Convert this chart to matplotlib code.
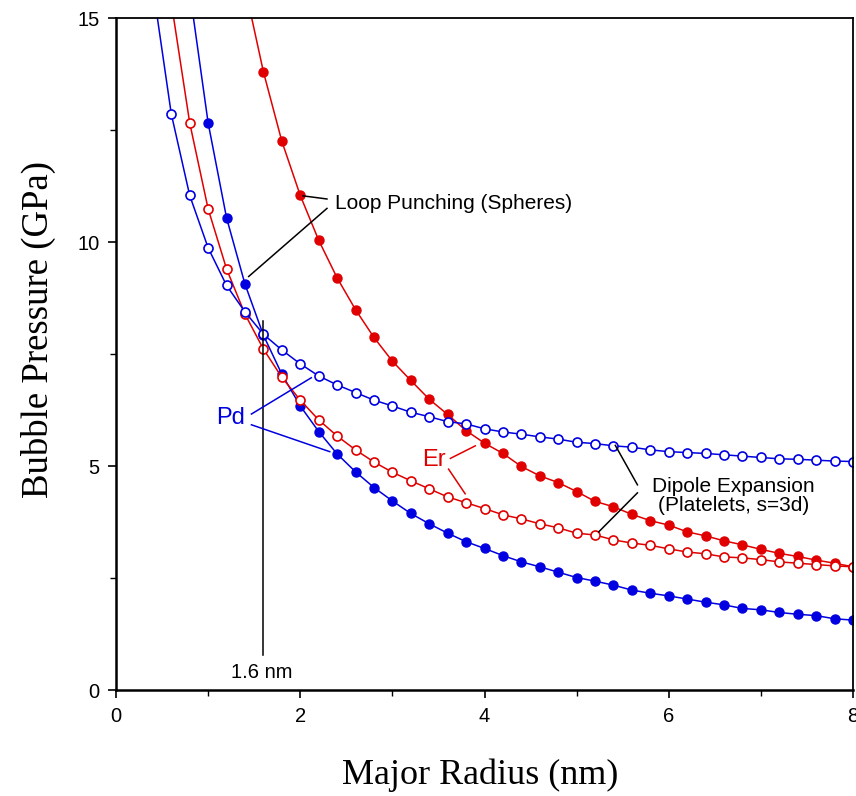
import matplotlib
matplotlib.use("Agg")
import matplotlib.pyplot as plt
import numpy as np

nan = np.nan

# major radius grid (nm)
radius = [0.4, 0.6, 0.8, 1.0, 1.2, 1.4, 1.6, 1.8, 2.0, 2.2, 2.4, 2.6, 2.8,
          3.0, 3.2, 3.4, 3.6, 3.8, 4.0, 4.2, 4.4, 4.6, 4.8, 5.0, 5.2, 5.4,
          5.6, 5.8, 6.0, 6.2, 6.4, 6.6, 6.8, 7.0, 7.2, 7.4, 7.6, 7.8, 8.0]

# bubble pressure (GPa)
pd_dipole = [15.7, 12.86, 11.04, 9.87, 9.03, 8.44, 7.94, 7.59, 7.28, 7.01, 6.81, 6.64, 6.47,
             6.34, 6.20, 6.10, 5.99, 5.94, 5.83, 5.76, 5.71, 5.65, 5.60, 5.53, 5.50, 5.45,
             5.42, 5.36, 5.32, 5.30, 5.28, 5.25, 5.22, 5.19, 5.16, 5.15, 5.13, 5.11, 5.10]
pd_loop = [nan, nan, 15.6, 12.66, 10.54, 9.06, 7.92, 7.05, 6.34, 5.77, 5.27, 4.87, 4.52,
           4.22, 3.94, 3.71, 3.50, 3.31, 3.16, 3.00, 2.86, 2.75, 2.63, 2.51, 2.43, 2.34,
           2.23, 2.16, 2.10, 2.03, 1.96, 1.90, 1.82, 1.79, 1.73, 1.69, 1.66, 1.59, 1.56]
er_dipole = [nan, 15.35, 12.66, 10.74, 9.40, 8.39, 7.61, 6.98, 6.47, 6.03, 5.67, 5.36, 5.09,
             4.86, 4.67, 4.49, 4.31, 4.18, 4.05, 3.91, 3.82, 3.71, 3.62, 3.50, 3.46, 3.35,
             3.28, 3.23, 3.15, 3.08, 3.04, 2.97, 2.95, 2.91, 2.86, 2.83, 2.80, 2.77, 2.75]
er_loop = [nan, nan, nan, nan, nan, 15.69, 13.8, 12.25, 11.04, 10.04, 9.20, 8.49, 7.87,
           7.34, 6.91, 6.49, 6.15, 5.79, 5.51, 5.28, 4.99, 4.78, 4.63, 4.43, 4.21, 4.09,
           3.92, 3.78, 3.68, 3.53, 3.44, 3.33, 3.24, 3.14, 3.05, 2.98, 2.90, 2.83, 2.75]

blue = "#0000e0"
red = "#e00000"
sans = ["Liberation Sans", "DejaVu Sans"]
serif = ["Liberation Serif", "DejaVu Serif"]

fig = plt.figure(figsize=(8.56, 7.96), dpi=100)
ax = fig.add_axes([116 / 856, 1 - 690 / 796, 737 / 856, 672 / 796])

ms = 6.5
ax.plot(radius, pd_loop, "-o", color=blue, lw=1.1, ms=ms, mec=blue, mfc=blue)
ax.plot(radius, er_loop, "-o", color=red, lw=1.1, ms=ms, mec=red, mfc=red)
ax.plot(radius, er_dipole, "-o", color=red, lw=1.1, ms=ms, mec=red, mfc="white", mew=1.2)
ax.plot(radius, pd_dipole, "-o", color=blue, lw=1.1, ms=ms, mec=blue, mfc="white", mew=1.2)

ax.set_xlim(0, 8)
ax.set_ylim(0, 15)
ax.set_xticks([0, 2, 4, 6, 8])
ax.set_xticks([1, 3, 5, 7], minor=True)
ax.set_yticks([0, 5, 10, 15])
ax.set_yticks([2.5, 7.5, 12.5], minor=True)
ax.tick_params(which="major", direction="out", length=6, width=1.2, labelsize=14.5, pad=6)
ax.tick_params(which="minor", direction="out", length=4, width=1.0)
for lab in ax.get_xticklabels() + ax.get_yticklabels():
    lab.set_family(sans)
for side in ["left", "bottom"]:
    ax.spines[side].set_linewidth(1.8)
for side in ["top", "right"]:
    ax.spines[side].set_linewidth(1.3)

ax.set_xlabel("Major Radius (nm)", family=serif, fontsize=26, va="center")
ax.set_ylabel("Bubble Pressure (GPa)", family=serif, fontsize=26.5, va="center")
ax.xaxis.set_label_coords(0.494, (690 - 775) / 672)
ax.yaxis.set_label_coords((38 - 116) / 737, (690 - 330) / 672)

# 1.6 nm marker
ax.plot([1.6, 1.6], [0.78, 8.24], color="black", lw=1.1)
ax.text(1.585, 0.40, "1.6 nm", family=sans, fontsize=14.5, ha="center", va="center")

# annotations
ax.text(2.38, 10.85, "Loop Punching (Spheres)", family=sans, fontsize=15, va="center")
ax.plot([2.03, 2.29], [11.03, 10.96], color="black", lw=1.1)
ax.plot([2.29, 1.44], [10.75, 9.23], color="black", lw=1.1)

ax.text(1.40, 6.07, "Pd", family=sans, fontsize=17, color=blue, ha="right", va="center")
ax.plot([1.47, 2.12], [6.16, 6.97], color=blue, lw=1.1)
ax.plot([1.47, 2.32], [5.92, 5.32], color=blue, lw=1.1)

ax.text(3.58, 5.13, "Er", family=sans, fontsize=17, color=red, ha="right", va="center")
ax.plot([3.63, 3.90], [5.17, 5.45], color=red, lw=1.1)
ax.plot([3.61, 3.79], [4.93, 4.38], color=red, lw=1.1)

ax.text(6.70, 4.33, "Dipole Expansion\n(Platelets, s=3d)", family=sans, fontsize=15,
        ha="center", va="center", multialignment="center", linespacing=1.05)
ax.plot([5.66, 5.42], [4.58, 5.46], color="black", lw=1.1)
ax.plot([5.66, 5.24], [4.40, 3.53], color="black", lw=1.1)

fig.savefig("out.png", dpi=100)
